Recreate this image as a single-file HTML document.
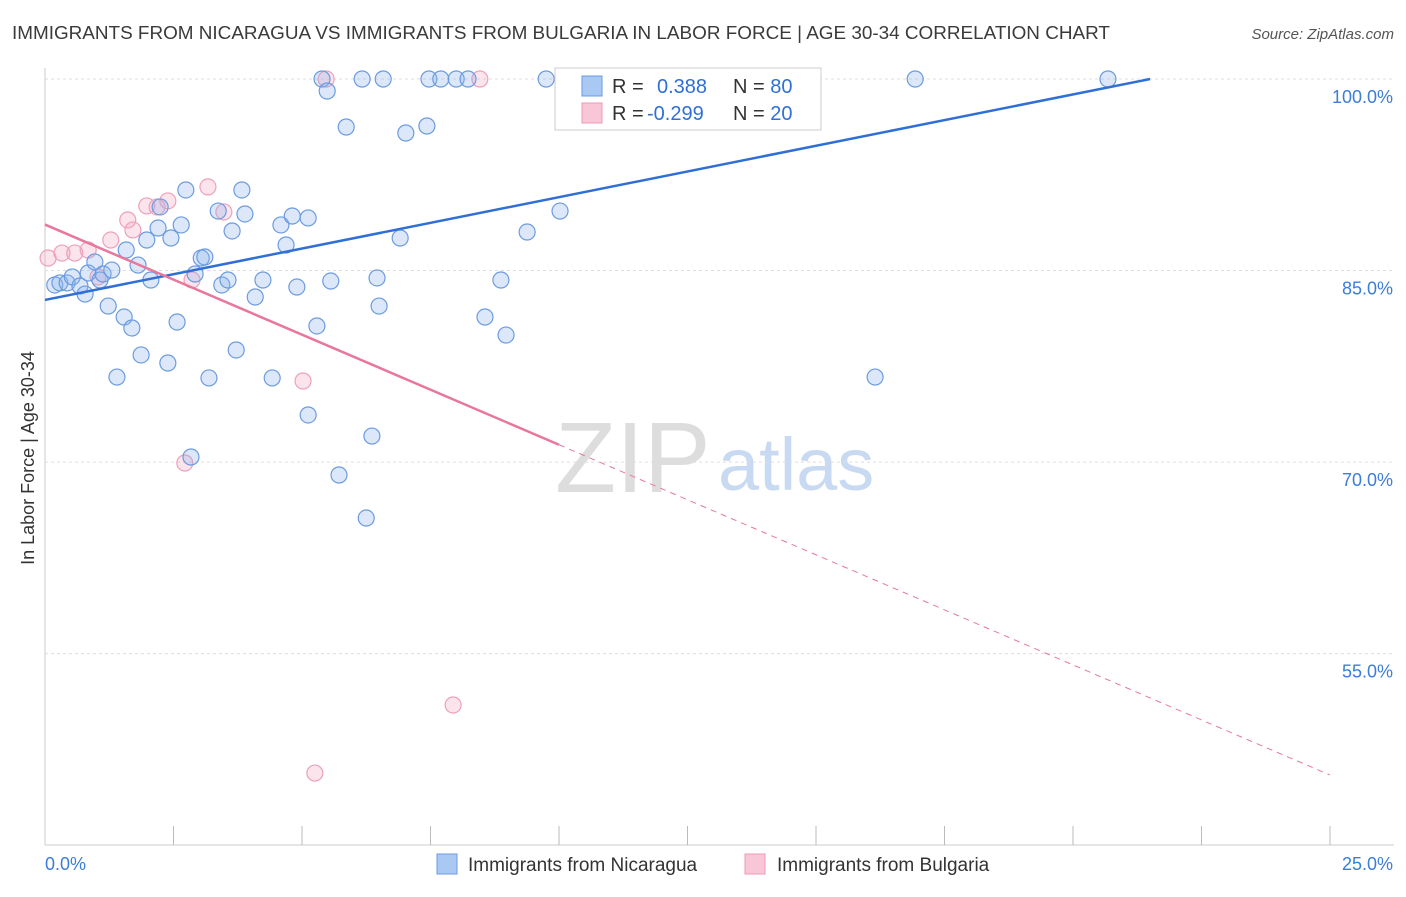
<!DOCTYPE html>
<html><head><meta charset="utf-8"><style>
body{margin:0;background:#fff;font-family:"Liberation Sans",sans-serif;}
svg text{font-family:"Liberation Sans",sans-serif;}
</style></head><body>
<svg id="chart" width="1406" height="892" xmlns="http://www.w3.org/2000/svg">
<text x="12" y="39" font-size="18.9" fill="#3a3a3a">IMMIGRANTS FROM NICARAGUA VS IMMIGRANTS FROM BULGARIA IN LABOR FORCE | AGE 30-34 CORRELATION CHART</text>
<text x="1394" y="39" font-size="15" fill="#555" text-anchor="end" font-style="italic">Source: ZipAtlas.com</text>
<text x="34" y="458" font-size="18" fill="#333" text-anchor="middle" transform="rotate(-90 34 458)">In Labor Force | Age 30-34</text>
<text x="555" y="492" font-size="100" fill="#ddd" font-family="Liberation Serif">ZIP</text>
<text x="718" y="490" font-size="74" fill="#c8daf2">atlas</text>
<g id="grid"></g><g id="marks"></g>
<g>
<rect x="555" y="68" width="266" height="62" fill="#fff" stroke="#ccc"/>
<rect x="582" y="76" width="20" height="20" fill="#a9c9f3" stroke="#6b9be0"/>
<rect x="582" y="103" width="20" height="20" fill="#f8c6d6" stroke="#ee9ab7"/>
<text x="612" y="93" font-size="20" fill="#333">R = <tspan fill="#2f6fd6" x="657">0.388</tspan><tspan fill="#333" x="733">N = </tspan><tspan fill="#2f6fd6">80</tspan></text>
<text x="612" y="120" font-size="20" fill="#333">R = <tspan fill="#2f6fd6" x="647">-0.299</tspan><tspan fill="#333" x="733">N = </tspan><tspan fill="#2f6fd6">20</tspan></text>
</g>
<g>
<rect x="437" y="854" width="20" height="20" fill="#a9c9f3" stroke="#6b9be0"/>
<text x="468" y="871" font-size="19" fill="#333">Immigrants from Nicaragua</text>
<rect x="745" y="854" width="20" height="20" fill="#f8c6d6" stroke="#ee9ab7"/>
<text x="777" y="871" font-size="19" fill="#333">Immigrants from Bulgaria</text>
</g>
</svg>
<script>
const xTicks=[0,2.5,5,7.5,10,12.5,15,17.5,20,22.5,25];
const yTicks=[100,85,70,55];
const yTickLabels=["100.0%","85.0%","70.0%","55.0%"];
const blueX=[0.19,0.29,0.43,0.53,0.68,0.78,0.84,0.97,1.07,1.13,1.23,1.30,1.40,1.54,1.58,1.69,1.81,1.87,1.98,2.06,2.20,2.24,2.39,2.45,2.57,2.65,2.74,2.84,2.92,3.04,3.11,3.19,3.37,3.44,3.56,3.64,3.72,3.83,3.89,4.09,4.24,4.42,4.59,4.69,4.81,4.90,5.12,5.12,5.29,5.39,5.49,5.56,5.72,5.86,6.17,6.25,6.36,6.46,6.50,6.58,6.91,7.02,7.43,7.47,7.70,8.00,8.23,8.56,8.87,8.97,9.38,9.75,10.02,10.41,10.72,16.15,16.93,20.68];
const blueY=[83.87,84.03,84.03,84.50,83.79,83.16,84.81,85.67,84.26,84.73,82.22,85.04,76.66,81.36,86.61,80.50,85.43,78.39,87.39,84.26,88.33,89.98,77.76,87.55,80.97,88.57,91.31,70.40,84.73,85.98,86.06,76.59,89.66,83.87,84.26,88.10,78.78,91.31,89.43,82.93,84.26,76.59,88.57,87.00,89.27,83.71,89.12,73.69,80.66,100,99.06,84.18,68.99,96.24,100,65.62,72.04,84.42,82.22,100,87.55,95.77,96.32,100,100,100,100,81.36,84.26,79.95,88.02,100,89.66,98.59,99.77,76.66,100,100];
const pinkX=[0.06,0.33,0.58,0.84,1.03,1.28,1.61,1.71,1.98,2.18,2.39,2.72,2.86,3.17,3.48,5.02,5.25,5.47,7.94,8.46];
const pinkY=[85.98,86.37,86.37,86.61,84.50,87.39,88.96,88.18,90.06,89.98,90.45,69.93,84.26,91.55,89.59,76.35,45.65,100,50.98,100];
const blueTrend=[82.7,100];const blueTrendX=[0,21.5];
const pinkTrend=[88.6,45.5];const pinkTrendX=[0,25];const pinkSolidEnd=10;
const X=v=>45+v*51.4, Y=v=>79+(100-v)*12.77;
const NS="http://www.w3.org/2000/svg";
function mk(t,a,p){const e=document.createElementNS(NS,t);for(const k in a)e.setAttribute(k,a[k]);p.appendChild(e);return e;}
const grid=document.getElementById('grid'),marks=document.getElementById('marks');
mk('line',{x1:45,y1:68,x2:45,y2:845,stroke:'#ccc'},grid);
mk('line',{x1:45,y1:845,x2:1394,y2:845,stroke:'#ccc'},grid);
yTicks.forEach((t,i)=>{
 const g=mk('line',{x1:45,y1:Y(t),x2:1394,y2:Y(t),stroke:'#ddd','stroke-dasharray':'3,3'},grid);
 
 
 const l=mk('text',{x:1393,y:Y(t)+24,'font-size':18,fill:'#3b7dd8','text-anchor':'end'},grid);l.textContent=yTickLabels[i];
 
 
});
xTicks.forEach((t,i)=>{if(i>0){const e=mk('line',{x1:X(t),y1:826,x2:X(t),y2:845,stroke:'#bbb'},grid);
 
 }});
const xl0=mk('text',{x:45,y:870,'font-size':18,fill:'#3b7dd8'},grid);xl0.textContent="0.0%";


const xl1=mk('text',{x:1393,y:870,'font-size':18,fill:'#3b7dd8','text-anchor':'end'},grid);xl1.textContent="25.0%";


pinkX.forEach((x,i)=>{const c=mk('circle',{cx:X(x),cy:Y(pinkY[i]),r:8,fill:'rgba(244,167,192,0.3)',stroke:'#eea0bb','stroke-width':1.2},marks);
 
 });
blueX.forEach((x,i)=>{const c=mk('circle',{cx:X(x),cy:Y(blueY[i]),r:8,fill:'rgba(140,180,236,0.3)',stroke:'#6b9be0','stroke-width':1.2},marks);
 
 });
const bt=mk('line',{x1:X(blueTrendX[0]),y1:Y(blueTrend[0]),x2:X(blueTrendX[1]),y2:Y(blueTrend[1]),stroke:'#2f6fd6','stroke-width':2.5},marks);


const pv=t=>pinkTrend[0]+(pinkTrend[1]-pinkTrend[0])*(t-pinkTrendX[0])/(pinkTrendX[1]-pinkTrendX[0]);
const pt=mk('line',{x1:X(0),y1:Y(pinkTrend[0]),x2:X(pinkSolidEnd),y2:Y(pv(pinkSolidEnd)),stroke:'#e8779c','stroke-width':2.5},marks);


const pd=mk('line',{x1:X(pinkSolidEnd),y1:Y(pv(pinkSolidEnd)),x2:X(pinkTrendX[1]),y2:Y(pinkTrend[1]),stroke:'#e8779c','stroke-width':1,'stroke-dasharray':'6,5'},marks);


</script>
</body></html>
